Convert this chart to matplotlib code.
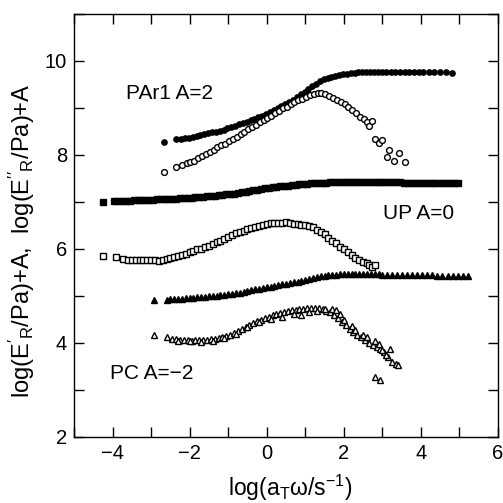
import matplotlib
matplotlib.use("Agg")
import matplotlib.pyplot as plt
from matplotlib.ticker import MultipleLocator

plt.rcParams['font.family'] = ['Liberation Sans', 'DejaVu Sans']
plt.rcParams['mathtext.fontset'] = 'custom'
plt.rcParams['mathtext.rm'] = 'Liberation Sans'
plt.rcParams['mathtext.it'] = 'Liberation Sans:italic'
plt.rcParams['mathtext.bf'] = 'Liberation Sans:bold'

# PAr1 (A=2), storage modulus E' (filled circles)
par1_storage_x = [-2.67, -2.35, -2.22, -2.12, -2.02, -1.92, -1.82, -1.72, -1.62, -1.52,
                  -1.42, -1.32, -1.22, -1.12, -1.02, -0.92, -0.82, -0.72, -0.62, -0.52,
                  -0.42, -0.32, -0.22, -0.12, -0.02, 0.08, 0.18, 0.28, 0.38, 0.48,
                  0.58, 0.68, 0.78, 0.88, 0.98, 1.08, 1.18, 1.28, 1.38, 1.48,
                  1.58, 1.68, 1.78, 1.88, 1.98, 2.08, 2.18, 2.28, 2.38, 2.48,
                  2.58, 2.68, 2.78, 2.88, 2.98, 3.10, 3.22, 3.34, 3.46, 3.58,
                  3.70, 3.82, 3.94, 4.06, 4.20, 4.35, 4.50, 4.65, 4.80]
par1_storage_y = [8.28, 8.33, 8.35, 8.36, 8.37, 8.39, 8.40, 8.42, 8.44, 8.46,
                  8.48, 8.50, 8.52, 8.54, 8.57, 8.59, 8.62, 8.65, 8.68, 8.71,
                  8.74, 8.77, 8.81, 8.84, 8.88, 8.92, 8.96, 9.00, 9.04, 9.08,
                  9.13, 9.18, 9.23, 9.29, 9.35, 9.41, 9.47, 9.52, 9.57, 9.61,
                  9.64, 9.67, 9.69, 9.71, 9.72, 9.73, 9.74, 9.75, 9.76, 9.76,
                  9.77, 9.77, 9.77, 9.77, 9.77, 9.77, 9.77, 9.77, 9.77, 9.77,
                  9.77, 9.77, 9.77, 9.76, 9.76, 9.76, 9.76, 9.76, 9.75]

# PAr1 (A=2), loss modulus E'' (open circles)
par1_loss_x = [-2.67, -2.35, -2.20, -2.08, -1.98, -1.88, -1.78, -1.68, -1.58, -1.48,
               -1.38, -1.28, -1.18, -1.08, -0.98, -0.88, -0.78, -0.68, -0.58, -0.48,
               -0.38, -0.28, -0.18, -0.08, 0.02, 0.12, 0.22, 0.32, 0.42, 0.52,
               0.62, 0.72, 0.82, 0.92, 1.02, 1.12, 1.22, 1.32, 1.42, 1.52,
               1.62, 1.72, 1.82, 1.92, 2.02, 2.12, 2.22, 2.32, 2.42, 2.52,
               2.60, 2.66, 2.72, 2.82, 2.90, 2.98, 3.12, 3.17, 3.29, 3.42, 3.58]
par1_loss_y = [7.64, 7.74, 7.78, 7.82, 7.86, 7.88, 7.93, 7.97, 8.02, 8.06,
               8.10, 8.16, 8.21, 8.24, 8.29, 8.33, 8.39, 8.45, 8.49, 8.55,
               8.60, 8.64, 8.70, 8.74, 8.79, 8.84, 8.89, 8.94, 8.99, 9.03,
               9.08, 9.12, 9.16, 9.20, 9.24, 9.27, 9.29, 9.31, 9.31, 9.29,
               9.25, 9.21, 9.17, 9.12, 9.08, 9.02, 8.96, 8.89, 8.81, 8.76,
               8.70, 8.62, 8.72, 8.33, 8.26, 8.32, 7.96, 8.11, 7.87, 8.05, 7.86]

# UP (A=0), storage modulus E' (filled squares)
up_storage_x = [-4.26, -3.95, -3.85, -3.75, -3.65, -3.55, -3.45, -3.35, -3.25, -3.15,
                -3.05, -2.95, -2.85, -2.75, -2.65, -2.55, -2.45, -2.35, -2.25, -2.15,
                -2.05, -1.95, -1.85, -1.75, -1.65, -1.55, -1.45, -1.35, -1.25, -1.15,
                -1.05, -0.95, -0.85, -0.75, -0.65, -0.55, -0.45, -0.35, -0.25, -0.15,
                -0.05, 0.05, 0.15, 0.25, 0.35, 0.45, 0.55, 0.65, 0.75, 0.85,
                0.95, 1.05, 1.15, 1.25, 1.35, 1.45, 1.55, 1.65, 1.75, 1.85,
                1.95, 2.05, 2.15, 2.25, 2.35, 2.45, 2.55, 2.65, 2.75, 2.85,
                2.95, 3.05, 3.15, 3.25, 3.35, 3.45, 3.55, 3.65, 3.75, 3.85,
                3.95, 4.05, 4.15, 4.25, 4.35, 4.45, 4.55, 4.65, 4.75, 4.85, 4.95]
up_storage_y = [7.01, 7.02, 7.02, 7.03, 7.03, 7.03, 7.04, 7.04, 7.04, 7.05,
                7.05, 7.05, 7.06, 7.06, 7.06, 7.07, 7.07, 7.07, 7.08, 7.08,
                7.09, 7.09, 7.10, 7.10, 7.11, 7.12, 7.12, 7.13, 7.14, 7.15,
                7.16, 7.17, 7.18, 7.19, 7.21, 7.22, 7.23, 7.25, 7.26, 7.27,
                7.29, 7.30, 7.31, 7.32, 7.33, 7.34, 7.35, 7.36, 7.37, 7.38,
                7.39, 7.39, 7.40, 7.40, 7.41, 7.41, 7.41, 7.42, 7.42, 7.42,
                7.42, 7.42, 7.42, 7.42, 7.42, 7.42, 7.42, 7.42, 7.42, 7.42,
                7.42, 7.42, 7.42, 7.42, 7.42, 7.42, 7.41, 7.41, 7.41, 7.41,
                7.41, 7.41, 7.41, 7.41, 7.41, 7.40, 7.40, 7.40, 7.40, 7.40, 7.40]

# UP (A=0), loss modulus E'' (open squares)
up_loss_x = [-4.26, -3.92, -3.72, -3.60, -3.50, -3.40, -3.30, -3.20, -3.10, -3.00,
             -2.90, -2.80, -2.70, -2.60, -2.50, -2.40, -2.30, -2.20, -2.10, -2.00,
             -1.90, -1.80, -1.70, -1.60, -1.50, -1.40, -1.30, -1.20, -1.10, -1.00,
             -0.90, -0.80, -0.70, -0.60, -0.50, -0.40, -0.30, -0.20, -0.10, 0.00,
             0.10, 0.20, 0.30, 0.40, 0.50, 0.60, 0.70, 0.80, 0.90, 1.00,
             1.10, 1.20, 1.30, 1.40, 1.50, 1.60, 1.70, 1.80, 1.90, 2.00,
             2.10, 2.20, 2.30, 2.40, 2.50, 2.60, 2.65, 2.72, 2.82]
up_loss_y = [5.85, 5.83, 5.79, 5.77, 5.77, 5.76, 5.77, 5.76, 5.76, 5.77,
             5.76, 5.75, 5.76, 5.78, 5.80, 5.82, 5.85, 5.87, 5.90, 5.93,
             5.96, 5.99, 6.01, 6.04, 6.07, 6.11, 6.15, 6.18, 6.22, 6.25,
             6.29, 6.33, 6.36, 6.39, 6.42, 6.45, 6.47, 6.50, 6.52, 6.54,
             6.55, 6.56, 6.56, 6.56, 6.57, 6.55, 6.54, 6.53, 6.52, 6.52,
             6.50, 6.46, 6.41, 6.36, 6.31, 6.24, 6.18, 6.12, 6.05, 5.99,
             5.94, 5.88, 5.81, 5.76, 5.72, 5.70, 5.65, 5.62, 5.66]

# PC (A=-2), storage modulus E' (filled triangles)
pc_storage_x = [-2.92, -2.60, -2.50, -2.40, -2.30, -2.20, -2.10, -2.00, -1.90, -1.80,
                -1.70, -1.60, -1.50, -1.40, -1.30, -1.20, -1.10, -1.00, -0.90, -0.80,
                -0.70, -0.60, -0.50, -0.40, -0.30, -0.20, -0.10, 0.00, 0.10, 0.20,
                0.30, 0.40, 0.50, 0.60, 0.70, 0.80, 0.90, 1.00, 1.10, 1.20,
                1.30, 1.40, 1.50, 1.60, 1.70, 1.80, 1.90, 2.00, 2.10, 2.20,
                2.30, 2.40, 2.50, 2.60, 2.70, 2.80, 2.90, 3.00, 3.13, 3.26,
                3.39, 3.52, 3.65, 3.78, 3.91, 4.04, 4.17, 4.30, 4.43, 4.56,
                4.69, 4.82, 4.95, 5.08, 5.23]
pc_storage_y = [4.91, 4.92, 4.93, 4.93, 4.94, 4.94, 4.95, 4.95, 4.96, 4.97,
                4.97, 4.98, 4.99, 5.00, 5.01, 5.02, 5.03, 5.04, 5.05, 5.06,
                5.07, 5.09, 5.10, 5.12, 5.14, 5.15, 5.17, 5.19, 5.20, 5.22,
                5.23, 5.25, 5.26, 5.27, 5.29, 5.30, 5.32, 5.34, 5.36, 5.38,
                5.40, 5.42, 5.43, 5.44, 5.45, 5.45, 5.46, 5.46, 5.46, 5.46,
                5.46, 5.46, 5.46, 5.46, 5.46, 5.46, 5.46, 5.45, 5.45, 5.45,
                5.45, 5.45, 5.44, 5.44, 5.44, 5.44, 5.44, 5.44, 5.43, 5.43,
                5.43, 5.43, 5.43, 5.43, 5.43]

# PC (A=-2), loss modulus E'' (open triangles), two overlapping runs
pc_loss_x = [-2.92, -2.60, -2.45, -2.35, -2.25, -2.15, -2.05, -1.95, -1.85, -1.75,
             -1.65, -1.55, -1.45, -1.35, -1.25, -1.15, -1.05, -0.95, -0.85, -0.75,
             -0.65, -0.55, -0.45, -0.35, -0.25, -0.15, -0.05, 0.05, 0.15, 0.25,
             0.35, 0.45, 0.55, 0.65, 0.75, 0.85, 0.95, 1.05, 1.15, 1.25,
             1.35, 1.45, 1.55, 1.65, 1.75, 1.85, 1.95, 2.05, 2.15, 2.25,
             2.35, 2.45, 2.55, 2.65, 2.75, 2.85, 2.95, 3.05, 3.15, 3.25, 3.35]
pc_loss_y = [4.16, 4.12, 4.09, 4.08, 4.07, 4.06, 4.06, 4.05, 4.06, 4.06,
             4.07, 4.07, 4.08, 4.09, 4.10, 4.12, 4.15, 4.18, 4.22, 4.26,
             4.30, 4.34, 4.38, 4.42, 4.46, 4.50, 4.53, 4.56, 4.59, 4.62,
             4.64, 4.66, 4.68, 4.70, 4.71, 4.72, 4.73, 4.74, 4.75, 4.75,
             4.74, 4.72, 4.69, 4.65, 4.60, 4.53, 4.45, 4.38, 4.30, 4.24,
             4.18, 4.12, 4.06, 4.01, 3.96, 3.92, 3.87, 3.80, 3.70, 3.60, 3.55]
pc_loss2_x = [-2.30, -2.00, -1.70, -1.40, -1.10, -0.80, -0.50, -0.20, 0.10, 0.40,
              0.70, 0.90, 1.10, 1.30, 1.50, 1.70, 1.80, 1.90, 2.00, 2.20,
              2.30, 2.50, 2.60, 2.80, 2.90, 3.00, 3.10, 3.20, 3.40, 2.80, 2.93]
pc_loss2_y = [4.05, 4.04, 4.03, 4.05, 4.10, 4.20, 4.33, 4.45, 4.52, 4.55,
              4.62, 4.60, 4.66, 4.68, 4.72, 4.72, 4.70, 4.62, 4.50, 4.36,
              4.28, 4.18, 4.12, 4.05, 3.98, 3.85, 3.74, 3.87, 3.53, 3.28, 3.21]

fig = plt.figure(figsize=(5.03, 5.03), dpi=100)
ax = fig.add_axes([74 / 503, 66 / 503, 424 / 503, 423 / 503])

open_style = dict(linestyle='none', markerfacecolor='white', markeredgecolor='black',
                  markeredgewidth=1.0)
ax.plot(par1_storage_x, par1_storage_y, 'o', color='black', markersize=3.8)
ax.plot(par1_loss_x, par1_loss_y, marker='o', markersize=4.2, **open_style)
ax.plot(up_storage_x, up_storage_y, 's', color='black', markersize=4.3)
ax.plot(up_loss_x, up_loss_y, marker='s', markersize=4.0, **open_style)
ax.plot(pc_storage_x, pc_storage_y, '^', color='black', markersize=4.0)
ax.plot(pc_loss_x, pc_loss_y, marker='^', markersize=4.6, **open_style)
ax.plot(pc_loss2_x, pc_loss2_y, marker='^', markersize=4.6, **open_style)

ax.text(-3.65, 9.19, "PAr1 A=2", fontsize=15, ha='left', va='baseline')
ax.text(3.02, 6.64, "UP A=0", fontsize=15, ha='left', va='baseline')
ax.text(-4.07, 3.23, "PC A=\u22122", fontsize=15, ha='left', va='baseline')

ax.set_xlim(-5, 6)
ax.set_ylim(2, 11)
ax.set_xticks([-4, -2, 0, 2, 4, 6])
ax.set_yticks([2, 4, 6, 8, 10])
ax.xaxis.set_minor_locator(MultipleLocator(1))
ax.yaxis.set_minor_locator(MultipleLocator(1))
ax.tick_params(which='both', direction='in', top=True, right=True,
               length=7, width=1.0, labelsize=14.5, pad=5)
for s in ax.spines.values():
    s.set_linewidth(1.0)

ax.set_xlabel(r"log(a$_\mathrm{T}$ω/s$^{-1}$)", fontsize=16.5)
ax.set_ylabel(r"log($\mathrm{E}'_\mathrm{R}$/Pa)+A,  log($\mathrm{E}''_\mathrm{R}$/Pa)+A",
              fontsize=17)
ax.xaxis.set_label_coords(0.509, -0.084)
ax.yaxis.set_label_coords(-0.088, 0.463)

fig.savefig("out.png", dpi=100)
